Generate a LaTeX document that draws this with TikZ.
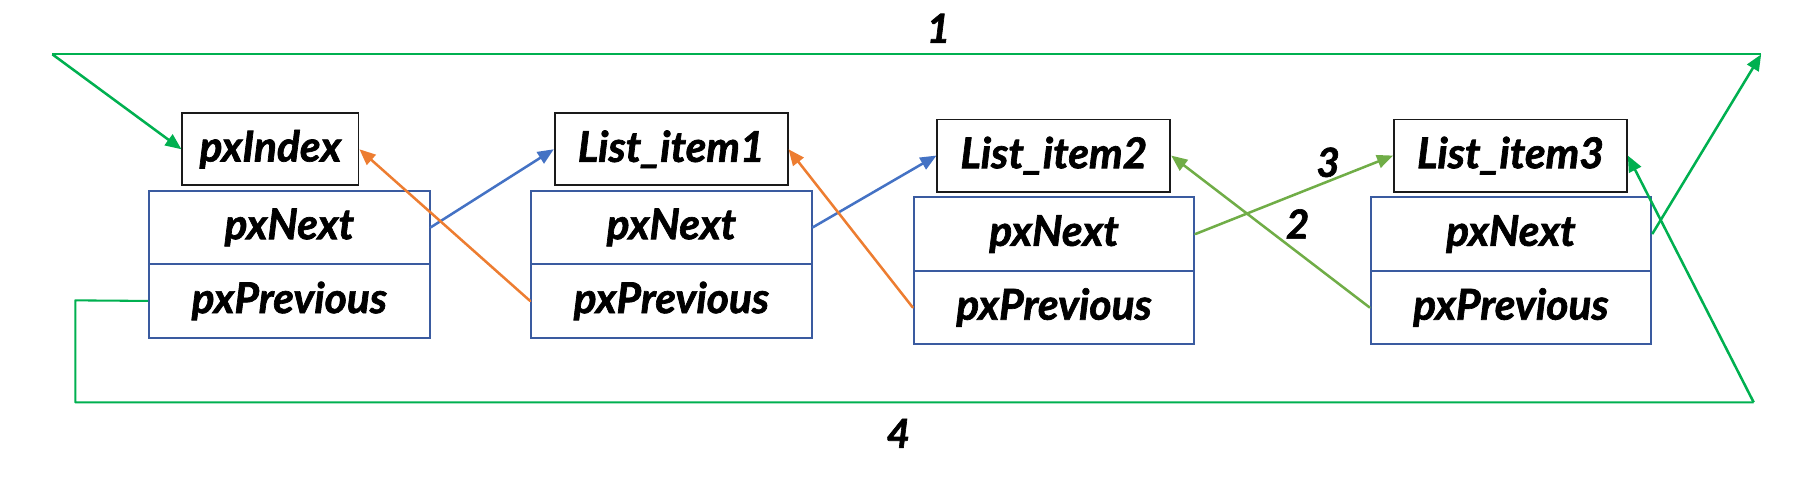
\documentclass[tikz,border=0pt]{standalone}
\usepackage{fontspec}
\setmainfont{Lato}[BoldItalicFeatures={FakeBold=1.6}]
\usetikzlibrary{arrows.meta}
\definecolor{loopgreen}{HTML}{00B050}
\definecolor{ltgreen}{HTML}{70AD47}
\definecolor{arrblue}{HTML}{4472C4}
\definecolor{arrorange}{HTML}{ED7D31}
\definecolor{boxblue}{HTML}{3A5BA0}
\definecolor{boxblack}{HTML}{1A1A1A}
\begin{document}
\begin{tikzpicture}[x=0.5pt,y=-0.5pt,
  txt/.style={font=\fontsize{18.5}{21}\selectfont\bfseries\itshape, text=black},
  headbox/.style={txt, draw=boxblack, line width=0.8pt, minimum height=31.5pt, inner sep=0pt},
  fieldbox/.style={txt, draw=boxblue, line width=0.9pt, minimum width=122.25pt, minimum height=32pt, inner sep=0pt},
  num/.style={font=\fontsize{17.5}{20}\selectfont\bfseries\itshape, text=black, inner sep=0pt},
  tip/.style={-{Triangle[length=7pt,width=5.8pt]}},
  conn/.style={line width=1.1pt, line cap=round, line join=round},
  loopline/.style={draw=loopgreen, line width=0.9pt, line join=round}
]
\useasboundingbox (0,0) rectangle (1568,416);

% head boxes
\node[headbox, minimum width=76.75pt] (idx) at (235.7,130.1) {pxIndex};
\node[headbox, minimum width=101.5pt] (l1) at (585,130.1) {List\_item1};
\node[headbox, minimum width=101.5pt] (l2) at (918.5,135.6) {List\_item2};
\node[headbox, minimum width=101.5pt] (l3) at (1316.5,135.6) {List\_item3};

% field boxes
\node[fieldbox] (n1next) at (252.2,198.2) {pxNext};
\node[fieldbox] (n1prev) at (252.2,262.3) {pxPrevious};
\node[fieldbox] (n2next) at (585.2,198.2) {pxNext};
\node[fieldbox] (n2prev) at (585.2,262.3) {pxPrevious};
\node[fieldbox] (n3next) at (918.7,204) {pxNext};
\node[fieldbox] (n3prev) at (918.7,268) {pxPrevious};
\node[fieldbox] (n4next) at (1316.9,204) {pxNext};
\node[fieldbox] (n4prev) at (1316.9,268) {pxPrevious};

% loop corners
\coordinate (TL) at (45.7,47.4);
\coordinate (TR) at (1535,47.4);
\coordinate (LB) at (65.7,261.8);
\coordinate (BL) at (65.7,350.7);
\coordinate (BR) at (1528.5,350.7);

% green loop (1 and 4)
\draw[loopline, tip, fill=loopgreen, line width=1.1pt] (n4next.east) -- (TR);
\draw[loopline] (TR) -- (TL);
\draw[loopline, tip, fill=loopgreen, line width=1.1pt] (TL) -- (idx.west);
\draw[loopline] (n1prev.west) -- (LB) -- (BL) -- (BR);
\draw[loopline, tip, fill=loopgreen, line width=1.1pt] (BR) -- (l3.east);

% blue next arrows
\draw[conn, tip, draw=arrblue, fill=arrblue] (n1next.east) -- (l1.west);
\draw[conn, tip, draw=arrblue, fill=arrblue] (n2next.east) -- (l2.west);

% orange previous arrows
\draw[conn, tip, draw=arrorange, fill=arrorange] (n2prev.west) -- (idx.east);
\draw[conn, tip, draw=arrorange, fill=arrorange] (n3prev.west) -- (l1.east);

% light green arrows
\draw[conn, tip, draw=ltgreen, fill=ltgreen] (n3next.east) -- (l3.west);
\draw[conn, tip, draw=ltgreen, fill=ltgreen] (n4prev.west) -- (l2.east);

% step numbers
\node[num] (lab1) at (818,24.7) {1};
\node[num] (lab4) at (783,377.7) {4};
\node[num] (lab3) at (1157.6,141.5) {3};
\node[num] (lab2) at (1131,195.2) {2};
\end{tikzpicture}
\end{document}
